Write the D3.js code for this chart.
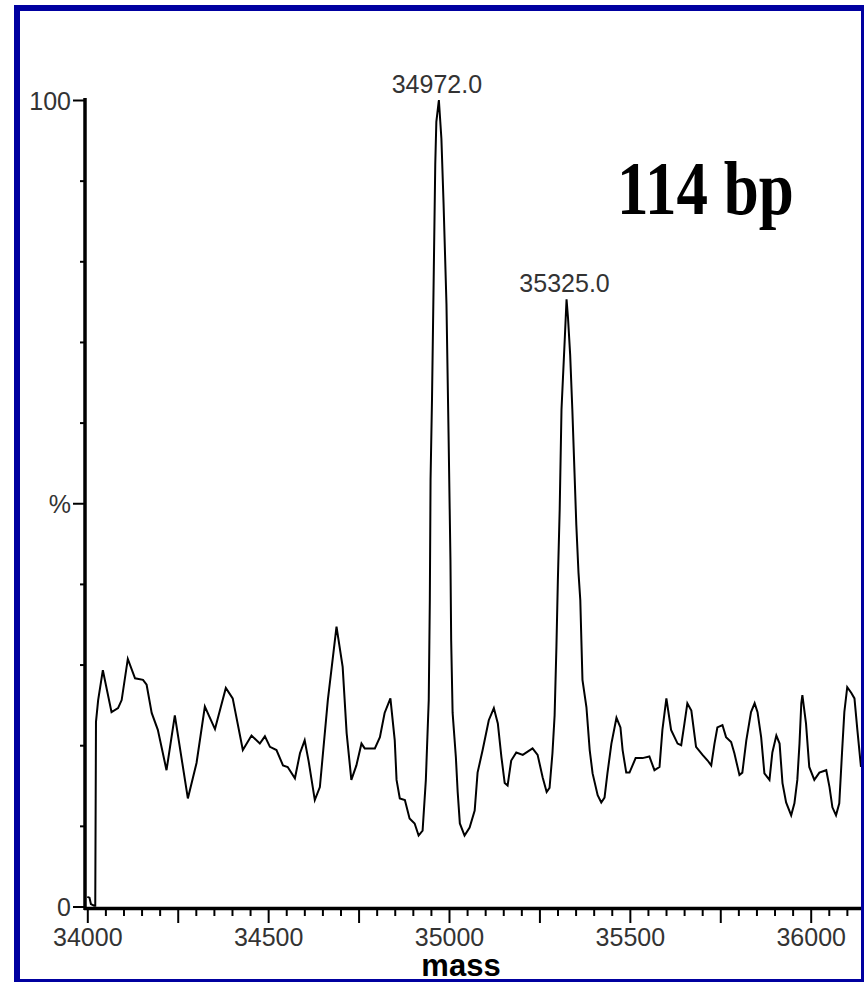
<!DOCTYPE html>
<html>
<head>
<meta charset="utf-8">
<script src="https://cdn.jsdelivr.net/npm/d3@7"></script>
<style>
  html, body { margin: 0; padding: 0; background: #fff; }
  svg { display: block; }
</style>
</head>
<body>
<svg id="chart" width="864" height="982"></svg>
<script>
// ---- data ----
const masses = [
  34000, 34006, 34010, 34019, 34022, 34024, 34030, 34043, 34067, 34085,
  34095, 34112, 34132, 34154, 34164, 34178, 34195, 34219, 34242, 34278,
  34302, 34325, 34353, 34383, 34402, 34430, 34454, 34477, 34491, 34505,
  34523, 34541, 34554, 34574, 34588, 34601, 34612, 34629, 34643, 34665,
  34689, 34706, 34717, 34730, 34744, 34758, 34767, 34795, 34809, 34822,
  34838, 34850, 34855, 34864, 34878, 34891, 34905, 34916, 34927, 34936,
  34944, 34947, 34949, 34953, 34958, 34962, 34965, 34972, 34979, 34985,
  34993, 34999, 35004, 35006, 35010, 35019, 35024, 35030, 35043, 35057,
  35071, 35079, 35093, 35110, 35124, 35135, 35145, 35154, 35162, 35172,
  35186, 35204, 35231, 35245, 35259, 35270, 35278, 35286, 35292, 35297,
  35301, 35306, 35311, 35320, 35325, 35329, 35335, 35341, 35347, 35352,
  35358, 35363, 35366, 35369, 35380, 35389, 35397, 35411, 35421, 35430,
  35438, 35449, 35463, 35474, 35480, 35490, 35499, 35516, 35535, 35554,
  35568, 35582, 35590, 35601, 35614, 35632, 35642, 35651, 35659, 35670,
  35683, 35701, 35715, 35725, 35734, 35742, 35756, 35766, 35780, 35789,
  35803, 35811, 35822, 35835, 35845, 35853, 35863, 35872, 35886, 35894,
  35905, 35914, 35922, 35932, 35946, 35955, 35963, 35969, 35974, 35977,
  35987, 35996, 36010, 36024, 36043, 36052, 36060, 36070, 36079, 36087,
  36093, 36101, 36112, 36121, 36129, 36139
];
const intensities = [
  1.2, 1.1, 0.3, 0.1, 0.1, 22.9, 25.6, 29.3, 24.1, 24.6,
  25.6, 30.7, 28.3, 28.1, 27.5, 24.0, 21.9, 16.9, 23.7, 13.4,
  17.8, 24.8, 22.0, 27.1, 25.8, 19.4, 21.2, 20.2, 21.1, 19.8,
  19.4, 17.5, 17.3, 15.9, 19.0, 20.6, 18.0, 13.2, 14.8, 25.6,
  34.7, 29.7, 21.5, 15.7, 17.5, 20.2, 19.6, 19.6, 21.0, 24.0,
  25.8, 20.6, 15.7, 13.4, 13.2, 10.9, 10.3, 8.8, 9.4, 15.7,
  25.6, 38.0, 52.9, 62.9, 79.0, 92.0, 97.3, 100, 95.2, 87.1,
  74.7, 57.9, 43.0, 33.0, 24.0, 18.5, 14.2, 10.3, 8.8, 9.8,
  11.9, 16.6, 19.4, 23.1, 24.6, 22.7, 18.5, 15.3, 15.0, 18.1,
  19.1, 18.8, 19.6, 18.8, 16.0, 14.2, 14.7, 19.0, 23.7, 32.2,
  40.5, 49.2, 61.6, 70.3, 75.3, 73.0, 68.4, 61.6, 53.8, 47.3,
  41.4, 38.0, 33.0, 28.1, 24.7, 19.4, 16.5, 13.8, 12.9, 13.5,
  16.5, 20.2, 23.4, 22.2, 19.4, 16.6, 16.6, 18.4, 18.4, 18.6,
  16.9, 17.3, 21.9, 25.8, 21.9, 20.2, 20.0, 22.7, 25.2, 24.3,
  19.8, 18.8, 18.1, 17.5, 20.2, 22.2, 22.5, 21.0, 20.4, 19.0,
  16.3, 16.6, 20.6, 24.1, 25.2, 24.1, 21.0, 16.5, 15.7, 19.1,
  21.2, 20.2, 15.3, 12.9, 11.3, 12.8, 15.7, 20.2, 25.2, 26.2,
  22.7, 17.3, 15.7, 16.6, 16.9, 14.8, 12.3, 11.3, 12.8, 19.4,
  24.1, 27.2, 26.5, 25.8, 21.9, 17.3
];
const peakMasses = [34972.0, 35325.0];
const xMinorTicks = d3.range(34000, 36101, 50);
const xLabelTicks = [34000, 34500, 35000, 35500, 36000];
const yTicks = d3.range(0, 101, 10);
const yTickLabels = {0: "0", 50: "%", 100: "100"};
const xTitle = "mass";
const annotation = "114 bp";

// ---- drawing ----
const svg = d3.select("#chart");
const x = d3.scaleLinear().domain([34000, 36000]).range([87.3, 810.7]);
const y = d3.scaleLinear().domain([0, 100]).range([906.5, 100]);
const plotRight = 861;
const FONT = "'Liberation Sans', Arial, sans-serif";

svg.append("rect").attr("width", 864).attr("height", 982).attr("fill", "#fff");

svg.append("defs").append("clipPath").attr("id", "plotclip")
  .append("rect").attr("x", 85).attr("y", 0).attr("width", plotRight - 85).attr("height", 982);

// x axis
const xAxis = d3.axisBottom(x)
  .tickValues(xMinorTicks)
  .tickSize(6)
  .tickPadding(0)
  .tickFormat(d => xLabelTicks.includes(d) ? String(d) : "");
const gx = svg.append("g").attr("transform", "translate(0,910)").call(xAxis);
gx.select(".domain").remove();
gx.selectAll(".tick line")
  .attr("stroke", "#000").attr("stroke-width", 2)
  .attr("y2", d => d % 250 === 0 ? 13 : 6);
gx.selectAll(".tick text")
  .attr("y", 36).attr("dy", 0)
  .attr("font-family", FONT).attr("font-size", 25).attr("fill", "#333");
svg.append("line").attr("x1", 84).attr("x2", plotRight).attr("y1", 908.5).attr("y2", 908.5)
  .attr("stroke", "#000").attr("stroke-width", 3.5);

// y axis
const yAxis = d3.axisLeft(y)
  .tickValues(yTicks)
  .tickSize(5)
  .tickPadding(0)
  .tickFormat(d => yTickLabels[d] || "");
const gy = svg.append("g").attr("transform", "translate(85,0)").call(yAxis);
gy.select(".domain").remove();
gy.selectAll(".tick line")
  .attr("stroke", "#000").attr("stroke-width", 2)
  .attr("x2", d => (d % 50 === 0) ? -12 : -5);
gy.selectAll(".tick text")
  .attr("x", -14).attr("dy", "0.36em")
  .attr("font-family", FONT).attr("font-size", 25).attr("fill", "#333");
svg.append("line").attr("x1", 85).attr("x2", 85).attr("y1", 98).attr("y2", 910)
  .attr("stroke", "#000").attr("stroke-width", 3.5);

// spectrum trace
const pts = masses.map((m, i) => [m, intensities[i]]);
const line = d3.line().x(d => x(d[0])).y(d => y(d[1]));
svg.append("path")
  .datum(pts)
  .attr("clip-path", "url(#plotclip)")
  .attr("d", line)
  .attr("fill", "none")
  .attr("stroke", "#000")
  .attr("stroke-width", 2)
  .attr("stroke-linejoin", "miter");

// peak labels
peakMasses.forEach(pm => {
  const idx = masses.indexOf(pm);
  svg.append("text")
    .attr("x", x(pm) - 2)
    .attr("y", y(intensities[idx]) - 7)
    .attr("text-anchor", "middle")
    .attr("font-family", FONT).attr("font-size", 25).attr("fill", "#333")
    .text(pm.toFixed(1));
});

// axis title
svg.append("text")
  .attr("x", 461).attr("y", 976)
  .attr("text-anchor", "middle")
  .attr("font-family", FONT).attr("font-weight", "bold").attr("font-size", 31)
  .attr("fill", "#000")
  .text(xTitle);

// annotation
svg.append("text")
  .attr("transform", "translate(617,214) scale(1,1.2)")
  .attr("font-family", "'Liberation Serif', 'Times New Roman', serif")
  .attr("font-weight", "bold").attr("font-size", 63).attr("fill", "#000")
  .text(annotation);

// blue frame
const frame = "#0000a0";
svg.append("rect").attr("x", 14).attr("y", 5).attr("width", 850).attr("height", 6).attr("fill", frame);
svg.append("rect").attr("x", 14).attr("y", 5).attr("width", 6).attr("height", 977).attr("fill", frame);
svg.append("rect").attr("x", 861).attr("y", 5).attr("width", 3).attr("height", 977).attr("fill", frame);
svg.append("rect").attr("x", 14).attr("y", 979).attr("width", 850).attr("height", 3).attr("fill", frame);
</script>
</body>
</html>
